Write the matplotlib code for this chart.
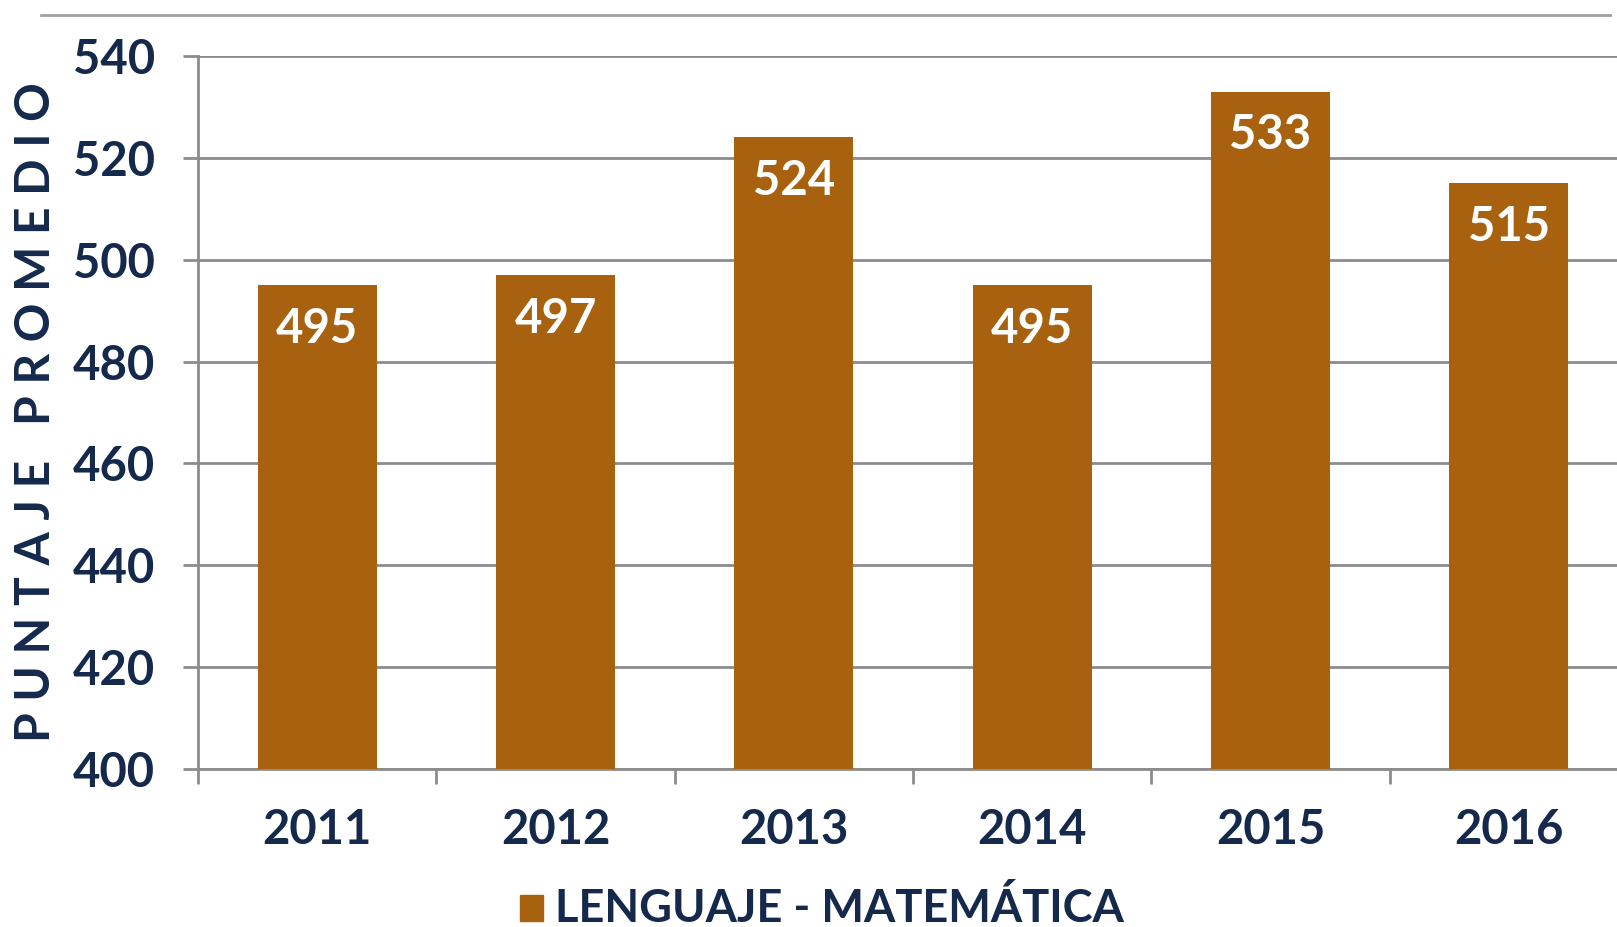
import matplotlib
matplotlib.use("Agg")
import matplotlib.pyplot as plt
from matplotlib.lines import Line2D
import numpy as np

# data
years = ["2011", "2012", "2013", "2014", "2015", "2016"]
puntajes = [495, 497, 524, 495, 533, 515]
serie = "LENGUAJE - MATEMÁTICA"
y_label = "PUNTAJE PROMEDIO"

bar_color = "#A8620F"
navy = "#14294B"
grid_color = "#8C8C8C"

W, H = 1617, 927
fig = plt.figure(figsize=(W / 100, H / 100), dpi=100)
ax = fig.add_axes([198 / W, 1 - 769 / H, 1430 / W, 713 / H])

x = np.arange(len(years))
ax.bar(x, puntajes, width=0.5, color=bar_color, zorder=3)
ax.set_xlim(-0.5, len(years) - 0.5)
ax.set_ylim(400, 540)

# horizontal grid
ax.set_yticks(np.arange(400, 541, 20))
ax.yaxis.grid(True, color=grid_color, linewidth=2, zorder=0)
for s in ["top", "right"]:
    ax.spines[s].set_visible(False)
for s in ["left", "bottom"]:
    ax.spines[s].set_color(grid_color)
    ax.spines[s].set_linewidth(2)

ax.tick_params(axis="y", length=11, width=2, color=grid_color, pad=20,
               labelsize=34, labelcolor=navy)
for lab in ax.get_yticklabels():
    lab.set_fontfamily("Lato")
    lab.set_fontweight("bold")

# category boundary ticks + centered labels
ax.set_xticks(np.arange(0, len(years)) - 0.5)
ax.set_xticklabels([])
ax.tick_params(axis="x", which="major", length=11, width=2, color=grid_color)
ax.set_xticks(x, minor=True)
ax.set_xticklabels(years, minor=True, fontsize=34, color=navy,
                   fontfamily="Lato", fontweight="bold")
ax.tick_params(axis="x", which="minor", length=0, pad=28)

# value labels inside bars
for xi, v in zip(x, puntajes):
    ax.annotate(str(v), (xi, v), xytext=(0, -31.5), textcoords="offset points",
                ha="center", va="center", color="white", fontsize=34,
                fontfamily="Lato", fontweight="bold", zorder=4)

# y label, letter spaced
fig.text(36 / W, 1 - 412 / H, " ".join(y_label), rotation=90,
         ha="center", va="center", color=navy, fontsize=34.5,
         fontfamily="Lato", fontweight="bold")

# top rule
fig.add_artist(Line2D([41 / W, 1610 / W], [1 - 15 / H, 1 - 15 / H],
                      color="#A0A0A0", linewidth=2))

# legend
fig.patches.append(plt.Rectangle((520 / W, 1 - 921 / H), 23 / W, 26 / H,
                                 transform=fig.transFigure, color=bar_color))
fig.text(555 / W, 1 - 908 / H, serie, ha="left", va="center", color=navy,
         fontsize=32.5, fontfamily="Lato", fontweight="bold")

fig.savefig("out.png", dpi=100)
